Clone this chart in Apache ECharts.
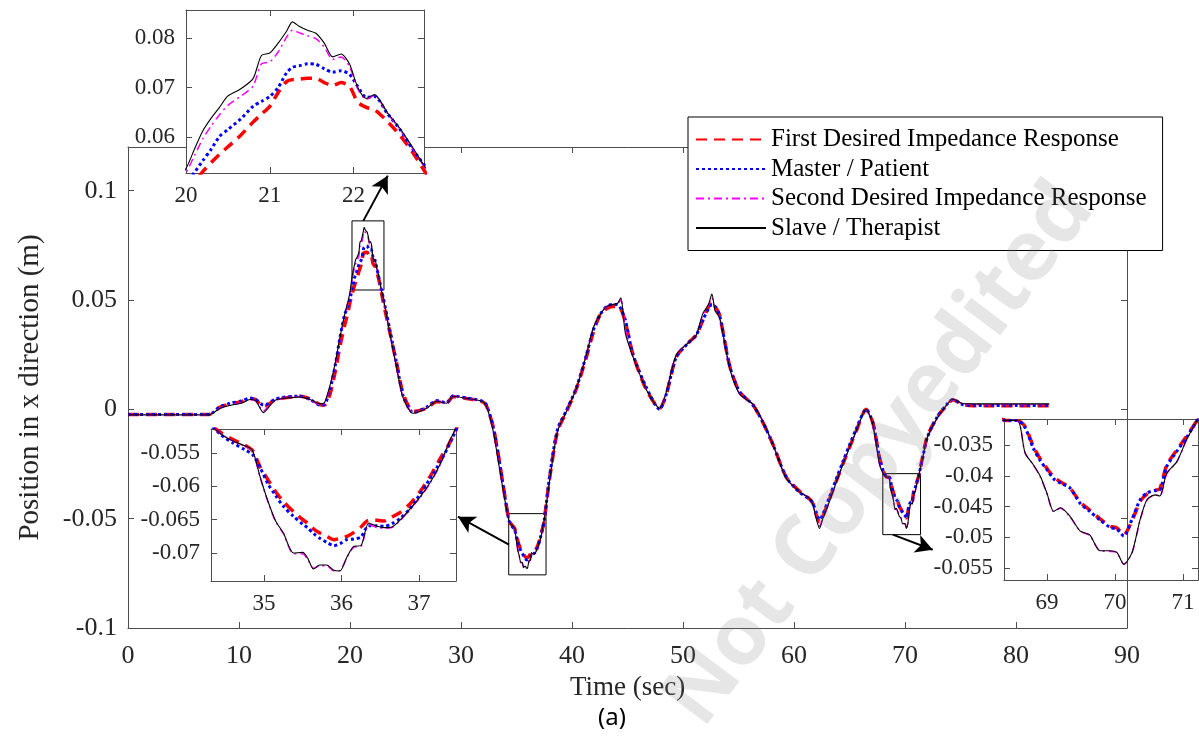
<!DOCTYPE html>
<html>
<head>
<meta charset="utf-8">
<script src="https://cdn.jsdelivr.net/npm/echarts@6/dist/echarts.min.js"></script>
<style>
html, body { margin: 0; padding: 0; background: #fff; }
#pic { width: 1199px; height: 747px; }
</style>
</head>
<body>
<div id="pic"></div>
<script>
// time base (sec), denser where the zoomed insets look
var timeSec = [
    0, 2, 4, 6, 7.3, 8.3, 9.2, 10.2, 11, 11.5, 12.2, 12.6, 13.2, 14, 15, 15.5, 16.4, 17.3, 17.7, 18.2, 18.7, 19.1, 19.5, 19.8,
    20.0, 20.1, 20.2, 20.3, 20.4, 20.5, 20.65, 20.8, 20.9, 21.0, 21.1, 21.2, 21.27, 21.35, 21.45, 21.55, 21.65, 21.75, 21.85, 21.95, 22.05, 22.15, 22.25, 22.4, 22.55, 22.7, 22.85,
    23.0, 23.6, 24.2, 24.8, 25.7, 26.9, 27.8, 28.7, 29.3, 30.5, 31.9, 32.3, 32.9, 33.4, 33.9,
    34.3, 34.45, 34.6, 34.75, 34.85, 34.95, 35.05, 35.15, 35.25, 35.38, 35.5, 35.56, 35.64, 35.72, 35.81, 35.9, 35.98, 36.07, 36.16, 36.25, 36.35, 36.46, 36.55, 36.65, 36.76, 36.88, 37.0, 37.15, 37.28, 37.38, 37.5,
    38.0, 38.7, 39.5, 40.4, 41.3, 41.9, 42.5, 43.1, 43.7, 44.1, 44.4, 44.8, 45.5, 46.7, 47.9, 48.5, 49.4, 50.6, 51.2, 51.8, 52.3, 52.6, 52.9, 53.3, 54.2, 55.1, 56.3, 57.2, 58.1, 59.3, 60.5, 61.4, 61.7, 62.0, 62.3, 62.6, 63.2, 64.4, 65.6, 66.5, 67.1, 67.7, 68.1,
    68.4, 68.57, 68.68, 68.8, 68.9, 69.0, 69.1, 69.2, 69.34, 69.49, 69.63, 69.78, 69.93, 70.03, 70.13, 70.25, 70.37, 70.47, 70.59, 70.66, 70.76, 70.91, 71.05, 71.22,
    71.6, 72.0, 72.9, 73.8, 74.3, 75.2, 76.1, 78, 80, 83
];

var firstDesired = [
    -0.0023, -0.0023, -0.0023, -0.0023, -0.0023, 0.001, 0.0025, 0.0035, 0.005, 0.0045, 0.0012, 0.002, 0.0042, 0.0052, 0.0058, 0.006, 0.0048, 0.0022, 0.002, 0.007, 0.018, 0.029, 0.038, 0.044,
    0.049, 0.0508, 0.053, 0.0548, 0.0565, 0.058, 0.0603, 0.063, 0.0646, 0.0662, 0.069, 0.0712, 0.0716, 0.0717, 0.0719, 0.0719, 0.071, 0.0704, 0.071, 0.0703, 0.067, 0.066, 0.0655, 0.0632, 0.0604, 0.057, 0.053,
    0.049, 0.035, 0.021, 0.007, -0.001, 0.0005, 0.0035, 0.003, 0.0058, 0.005, 0.0035, 0.0015, -0.008, -0.022, -0.038,
    -0.0505, -0.052, -0.053, -0.0538, -0.0546, -0.0571, -0.059, -0.0608, -0.0623, -0.0638, -0.065, -0.0655, -0.0664, -0.067, -0.0675, -0.068, -0.0678, -0.0675, -0.0669, -0.0661, -0.0651, -0.0651, -0.0652, -0.0646, -0.0639, -0.0627, -0.061, -0.0584, -0.0557, -0.0538, -0.0508,
    -0.031, -0.010, -0.001, 0.0095, 0.024, 0.035, 0.043, 0.046, 0.047, 0.047, 0.046, 0.040, 0.025, 0.009, 0.0005, 0.007, 0.024, 0.031, 0.034, 0.041, 0.047, 0.049, 0.047, 0.043, 0.020, 0.008, 0.002, -0.006, -0.016, -0.031, -0.0375, -0.041, -0.043, -0.048, -0.0515, -0.049, -0.041, -0.025, -0.010, 0.0, -0.006, -0.022, -0.029,
    -0.031, -0.031, -0.032, -0.0352, -0.0372, -0.0388, -0.0402, -0.041, -0.042, -0.0443, -0.0456, -0.047, -0.0482, -0.0485, -0.0496, -0.0473, -0.0442, -0.043, -0.0424, -0.0421, -0.0383, -0.0358, -0.0336, -0.0307,
    -0.0215, -0.0125, -0.0035, 0.002, 0.0044, 0.0022, 0.0017, 0.0017, 0.0017, 0.0017
];

var masterPatient = [
    -0.0023, -0.0023, -0.0023, -0.0023, -0.0023, 0.0012, 0.0028, 0.0038, 0.0052, 0.0045, 0.002, 0.0025, 0.0045, 0.0055, 0.006, 0.006, 0.0045, 0.002, 0.0022, 0.009, 0.021, 0.033, 0.043, 0.047,
    0.0505, 0.0528, 0.0552, 0.0575, 0.0601, 0.0615, 0.0636, 0.0662, 0.0672, 0.0682, 0.07, 0.073, 0.0741, 0.0744, 0.0748, 0.0747, 0.0738, 0.0731, 0.0734, 0.0727, 0.0702, 0.068, 0.0682, 0.0648, 0.0616, 0.0576, 0.0542,
    0.051, 0.036, 0.021, 0.006, -0.0015, 0.001, 0.004, 0.003, 0.0062, 0.0052, 0.0038, 0.002, -0.008, -0.022, -0.038,
    -0.0505, -0.0523, -0.0535, -0.0545, -0.0552, -0.0572, -0.0596, -0.0614, -0.063, -0.0645, -0.0657, -0.0662, -0.0671, -0.0678, -0.0684, -0.0689, -0.0686, -0.068, -0.0679, -0.0676, -0.0659, -0.0659, -0.066, -0.0656, -0.0648, -0.0634, -0.0614, -0.0587, -0.0562, -0.054, -0.0508,
    -0.030, -0.009, -0.0005, 0.010, 0.025, 0.036, 0.043, 0.047, 0.048, 0.048, 0.046, 0.041, 0.025, 0.010, 0.0, 0.007, 0.024, 0.031, 0.034, 0.041, 0.046, 0.048, 0.047, 0.043, 0.020, 0.008, 0.002, -0.006, -0.016, -0.031, -0.038, -0.041, -0.043, -0.047, -0.0505, -0.048, -0.040, -0.024, -0.009, 0.0, -0.006, -0.022, -0.029,
    -0.031, -0.031, -0.0322, -0.0355, -0.0375, -0.039, -0.0405, -0.0412, -0.042, -0.0445, -0.0458, -0.0472, -0.0484, -0.0487, -0.0498, -0.0471, -0.0439, -0.0428, -0.0424, -0.0423, -0.0385, -0.036, -0.0338, -0.0307,
    -0.022, -0.013, -0.0035, 0.0025, 0.0045, 0.0022, 0.0018, 0.0018, 0.0018, 0.0018
];

var secondDesired = [
    -0.0025, -0.0025, -0.0025, -0.0025, -0.0025, 0.0007, 0.002, 0.003, 0.0045, 0.0038, -0.0008, 0.001, 0.004, 0.005, 0.0057, 0.0058, 0.0043, 0.0022, 0.0027, 0.0105, 0.0215, 0.0325, 0.0425, 0.0485,
    0.0528, 0.0562, 0.0596, 0.0622, 0.0645, 0.0664, 0.0682, 0.0703, 0.0748, 0.0752, 0.0772, 0.0802, 0.0816, 0.0811, 0.0805, 0.0799, 0.0782, 0.0757, 0.0762, 0.0743, 0.0697, 0.0676, 0.0684, 0.0648, 0.0616, 0.0578, 0.0538,
    0.0505, 0.0345, 0.0192, 0.0052, -0.0016, 0.0006, 0.0037, 0.0029, 0.006, 0.005, 0.0037, 0.0015, -0.0098, -0.0248, -0.0398,
    -0.0505, -0.0522, -0.0532, -0.054, -0.0547, -0.0587, -0.0623, -0.0653, -0.0671, -0.0701, -0.0701, -0.0709, -0.0723, -0.0719, -0.0719, -0.0727, -0.0726, -0.0707, -0.0691, -0.069, -0.0657, -0.0662, -0.0663, -0.0662, -0.0651, -0.0635, -0.0619, -0.0594, -0.0566, -0.0537, -0.0506,
    -0.032, -0.010, -0.001, 0.0097, 0.025, 0.0368, 0.043, 0.047, 0.048, 0.0483, 0.050, 0.037, 0.024, 0.009, 0.0005, 0.008, 0.025, 0.031, 0.034, 0.0435, 0.0475, 0.051, 0.0455, 0.042, 0.019, 0.007, 0.0023, -0.0055, -0.016, -0.0315, -0.0376, -0.0408, -0.0435, -0.0495, -0.0535, -0.0495, -0.042, -0.0252, -0.010, -0.0002, -0.007, -0.025, -0.030,
    -0.031, -0.031, -0.0363, -0.0382, -0.0401, -0.0429, -0.0458, -0.0453, -0.0467, -0.049, -0.0497, -0.0522, -0.0523, -0.0525, -0.0544, -0.0526, -0.0472, -0.044, -0.0431, -0.0433, -0.0397, -0.0377, -0.0342, -0.0307,
    -0.022, -0.013, -0.004, 0.0023, 0.0045, 0.0026, 0.0023, 0.0022, 0.0022, 0.0022
];

var slaveTherapist = [
    -0.0025, -0.0025, -0.0025, -0.0025, -0.0025, 0.0005, 0.0018, 0.0028, 0.0045, 0.004, -0.0015, 0.0005, 0.004, 0.005, 0.0055, 0.0057, 0.0045, 0.0025, 0.003, 0.011, 0.022, 0.033, 0.043, 0.049,
    0.0536, 0.0575, 0.0612, 0.0638, 0.066, 0.0683, 0.0697, 0.0718, 0.0765, 0.077, 0.079, 0.0814, 0.0833, 0.0824, 0.0816, 0.081, 0.079, 0.0762, 0.0768, 0.0748, 0.07, 0.0678, 0.0686, 0.065, 0.0618, 0.058, 0.054,
    0.051, 0.0344, 0.019, 0.005, -0.0018, 0.0005, 0.0037, 0.0028, 0.006, 0.005, 0.0037, 0.0014, -0.010, -0.025, -0.040,
    -0.0505, -0.0522, -0.0532, -0.0539, -0.0546, -0.0586, -0.0622, -0.0652, -0.067, -0.07, -0.0699, -0.0707, -0.0724, -0.0718, -0.0718, -0.0726, -0.0727, -0.0706, -0.069, -0.0689, -0.0655, -0.066, -0.0662, -0.0661, -0.065, -0.0634, -0.0618, -0.0593, -0.0565, -0.0536, -0.0505,
    -0.032, -0.010, -0.001, 0.0097, 0.025, 0.037, 0.043, 0.047, 0.048, 0.0485, 0.051, 0.035, 0.024, 0.009, 0.0005, 0.008, 0.025, 0.031, 0.034, 0.044, 0.048, 0.0527, 0.045, 0.042, 0.019, 0.007, 0.0023, -0.0055, -0.016, -0.0315, -0.0376, -0.0408, -0.0436, -0.050, -0.0545, -0.050, -0.042, -0.0252, -0.010, 0.0, -0.007, -0.025, -0.030,
    -0.031, -0.031, -0.0363, -0.0382, -0.040, -0.0428, -0.0458, -0.0452, -0.0466, -0.049, -0.0496, -0.0522, -0.0522, -0.0525, -0.0544, -0.0525, -0.0471, -0.0439, -0.0431, -0.0433, -0.0396, -0.0377, -0.0342, -0.0307,
    -0.022, -0.013, -0.004, 0.0023, 0.0046, 0.0027, 0.0025, 0.0025, 0.0025, 0.0025
];

var seriesNames = ['First Desired Impedance Response', 'Master / Patient', 'Second Desired Impedance Response', 'Slave / Therapist'];

var mainXTicks = [0, 10, 20, 30, 40, 50, 60, 70, 80, 90];
var mainYTicks = [-0.1, -0.05, 0, 0.05, 0.1];
var peakXTicks = [20, 21, 22];
var peakYTicks = [0.06, 0.07, 0.08];
var troughXTicks = [35, 36, 37];
var troughYTicks = [-0.07, -0.065, -0.06, -0.055];
var dipXTicks = [69, 70, 71];
var dipYTicks = [-0.055, -0.05, -0.045, -0.04, -0.035];

// zoomed windows [tMin, tMax, yMin, yMax] and arrows [from, to] in data units
var zoomBoxes = [[20.18, 23.06, 0.0546, 0.0862], [34.3, 37.66, -0.0757, -0.0477], [68.0, 71.4, -0.0573, -0.0294]];
var zoomArrows = [[[21.2, 0.0862], [23.4, 0.1069]], [[34.32, -0.0619], [29.73, -0.0491]], [[68.9, -0.0573], [72.5, -0.0642]]];

var serif = 'Liberation Serif';
var lineStyles = [
    {color: '#ff0000', width: 3.5, type: [11, 7]},
    {color: '#0000ff', width: 3, type: [3, 3]},
    {color: '#ff00ff', width: 1.5, type: [8, 4, 2, 4]},
    {color: '#000000', width: 1.1, type: 'solid'}
];
var allValues = [firstDesired, masterPatient, secondDesired, slaveTherapist];

function pairs(values) {
    return timeSec.map(function (t, i) {
        return [t, values[i]];
    });
}

var panels = [
    {grid: {left: 128, top: 147, width: 999, height: 481}, x: [0, 90], y: [-0.1, 0.12], xt: mainXTicks, yt: mainYTicks, font: 26, main: true},
    {grid: {left: 186, top: 10, width: 238, height: 163}, x: [20, 22.84], y: [0.0527, 0.0857], xt: peakXTicks, yt: peakYTicks, font: 23, bg: true},
    {grid: {left: 211, top: 429, width: 245, height: 152}, x: [34.316, 37.477], y: [-0.0742, -0.0514], xt: troughXTicks, yt: troughYTicks, font: 23, bg: true},
    {grid: {left: 1004, top: 419, width: 194, height: 161}, x: [68.37, 71.22], y: [-0.05695, -0.03077], xt: dipXTicks, yt: dipYTicks, font: 23, bg: false}
];

function makeAxis(gi, range, ticks, pos, font, labels, z) {
    return {
        type: 'value', gridIndex: gi, min: range[0], max: range[1], position: pos, z: z,
        axisLine: {show: true, onZero: false, lineStyle: {color: '#4d4d4d', width: 1}},
        axisTick: {show: true, inside: true, length: 6, customValues: ticks, lineStyle: {color: '#4d4d4d'}},
        axisLabel: {show: labels, customValues: ticks, color: '#262626', fontFamily: serif, fontSize: font, margin: 11},
        splitLine: {show: false}
    };
}

var grids = [], xAxes = [], yAxes = [], series = [];
panels.forEach(function (p, gi) {
    var z = p.main ? 0 : 6;
    grids.push(Object.assign({show: !!p.bg, backgroundColor: '#fff', borderWidth: 0, z: p.main ? 0 : 5}, p.grid));
    var xb = makeAxis(gi, p.x, p.xt, 'bottom', p.font, true, z);
    var yl = makeAxis(gi, p.y, p.yt, 'left', p.font, true, z);
    if (p.main) {
        xb.axisLabel.margin = 15;
        xb.name = 'Time (sec)';
        xb.nameLocation = 'middle';
        xb.nameGap = 46;
        xb.nameTextStyle = {fontFamily: serif, fontSize: 27, color: '#262626'};
        yl.name = 'Position in x direction (m)';
        yl.nameLocation = 'middle';
        yl.nameGap = 83;
        yl.nameTextStyle = {fontFamily: serif, fontSize: 29, color: '#262626'};
    }
    xAxes.push(xb, makeAxis(gi, p.x, p.xt, 'top', p.font, false, z));
    yAxes.push(yl, makeAxis(gi, p.y, p.yt, 'right', p.font, false, z));

    allValues.forEach(function (vals, si) {
        var s = {
            name: seriesNames[si],
            type: 'line',
            xAxisIndex: gi * 2,
            yAxisIndex: gi * 2,
            data: pairs(vals),
            symbol: 'none',
            smooth: 0.25,
            clip: true,
            silent: true,
            z: p.main ? 2 : 7,
            itemStyle: {color: lineStyles[si].color},
            lineStyle: lineStyles[si]
        };
        if (p.main && si == 3) {
            s.markArea = {
                silent: true,
                itemStyle: {color: 'rgba(0,0,0,0)', borderColor: '#000', borderWidth: 1},
                label: {show: false},
                data: zoomBoxes.map(function (b) {
                    return [{coord: [b[0], b[3]]}, {coord: [b[1], b[2]]}];
                })
            };
            s.markLine = {
                silent: true,
                symbol: ['none', 'arrow'],
                symbolSize: [14, 17],
                label: {show: false},
                lineStyle: {color: '#000', width: 2, type: 'solid'},
                data: zoomArrows.map(function (a) {
                    return [{coord: a[0]}, {coord: a[1]}];
                })
            };
        }
        series.push(s);
    });
});

var myChart = echarts.init(document.getElementById('pic'));
myChart.setOption({
    animation: false,
    backgroundColor: '#fff',
    grid: grids,
    xAxis: xAxes,
    yAxis: yAxes,
    legend: {
        data: seriesNames,
        orient: 'vertical',
        left: 688,
        top: 117,
        padding: [10, 16, 10, 7],
        itemWidth: 70,
        itemHeight: 20,
        itemGap: 4.5,
        backgroundColor: '#fff',
        borderColor: '#000',
        borderWidth: 1,
        borderRadius: 0,
        selectedMode: false,
        z: 10,
        // hide the marker dot, keep only the line sample
        itemStyle: {color: 'rgba(0,0,0,0)', borderWidth: 0, opacity: 0},
        textStyle: {fontFamily: serif, fontSize: 25, color: '#000'}
    },
    graphic: [
        {
            type: 'text', x: 880, y: 455, rotation: 0.925, z: 100, silent: true,
            style: {text: 'Not Copyedited', font: 'bold 84px "Open Sans"', fill: 'rgba(128,128,128,0.2)', align: 'center', verticalAlign: 'middle'}
        },
        {
            type: 'text', x: 612, y: 718, z: 1, silent: true,
            style: {text: '(a)', font: '24px "Noto Sans"', fill: '#000', align: 'center', verticalAlign: 'middle'}
        }
    ],
    series: series
});
</script>
</body>
</html>
